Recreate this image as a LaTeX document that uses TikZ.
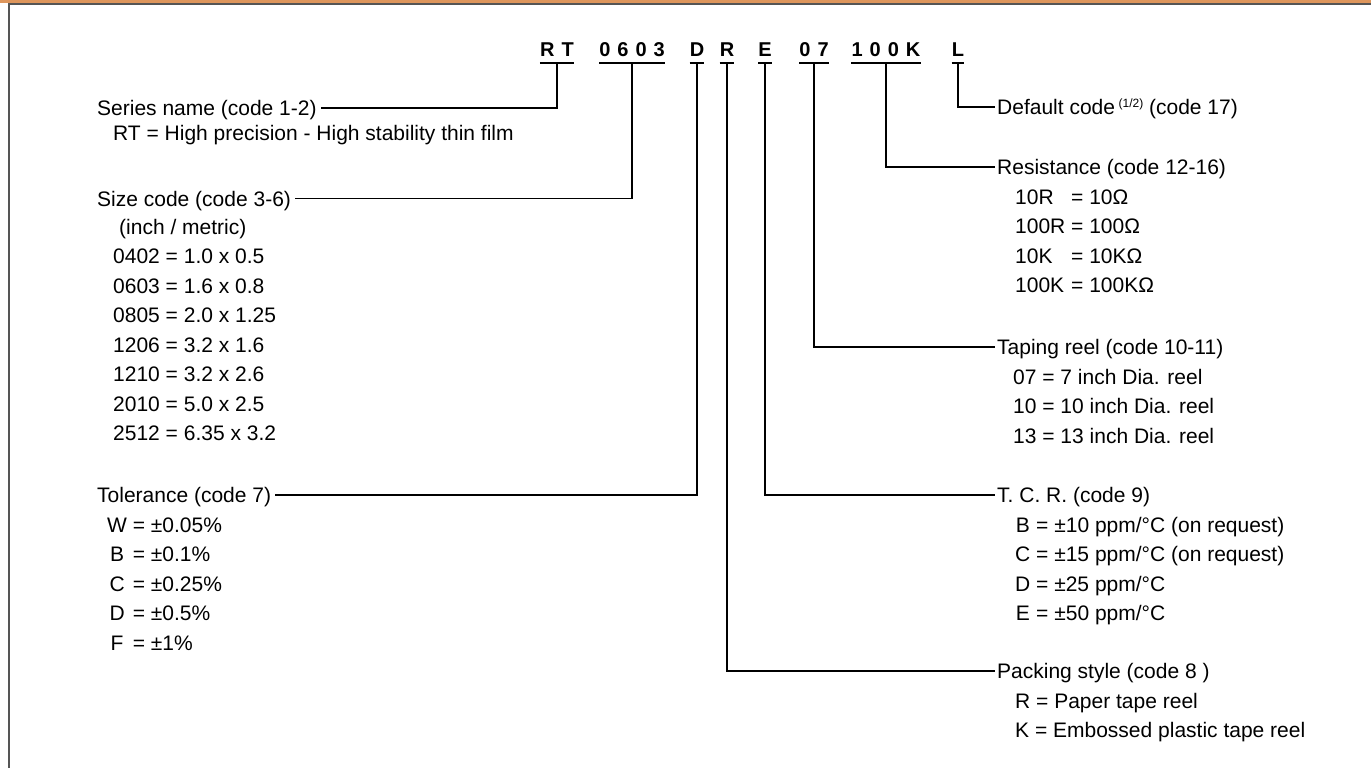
\documentclass[tikz,border=0pt]{standalone}
\usepackage{fontspec}
\setmainfont{Liberation Sans}
\definecolor{barorange}{RGB}{222,150,92}
\definecolor{framegray}{RGB}{85,85,85}
\newcommand{\gp}{\hspace{7pt}}
\newcommand{\eqs}{\ =\ }
\tikzset{
  code/.style={font=\fontsize{20}{20}\selectfont\bfseries, anchor=base, inner sep=0pt},
  head/.style={anchor=base west, inner sep=0pt},
  items/.style={anchor=base west, inner sep=0pt},
  lead/.style={line width=1.2pt},
}

\begin{document}
\begin{tikzpicture}[x=1pt,y=-1pt,font=\fontsize{21}{29.5}\selectfont]
	\useasboundingbox (0,0) rectangle (1371,768);

	% frame
	\fill[barorange] (0,0) rectangle (1371,3.5);
	\draw[framegray,line width=1.5pt] (9,768) -- (9,4) -- (1371,4);

	% part number
	\node[code] (rt) at (557,57) {R\gp T};
	\node[code] (sz) at (632,57) {0\gp 6\gp 0\gp 3};
	\node[code] (tol) at (697,57) {D};
	\node[code] (pack) at (727,57) {R};
	\node[code] (tcr) at (765,57) {E};
	\node[code] (reel) at (814,57) {0\gp 7};
	\node[code] (res) at (886,57) {1\gp 0\gp 0\gp K};
	\node[code] (dflt) at (958,57) {L};

	\draw[lead] ([yshift=-6pt]rt.base west) -- ([yshift=-6pt]rt.base east);
	\draw[lead] ([yshift=-6pt]sz.base west) -- ([yshift=-6pt]sz.base east);
	\draw[lead] ([yshift=-6pt]tol.base west) -- ([yshift=-6pt]tol.base east);
	\draw[lead] ([yshift=-6pt]pack.base west) -- ([yshift=-6pt]pack.base east);
	\draw[lead] ([yshift=-6pt]tcr.base west) -- ([yshift=-6pt]tcr.base east);
	\draw[lead] ([yshift=-6pt]reel.base west) -- ([yshift=-6pt]reel.base east);
	\draw[lead] ([yshift=-6pt]res.base west) -- ([yshift=-6pt]res.base east);
	\draw[lead] ([yshift=-6pt]dflt.base west) -- ([yshift=-6pt]dflt.base east);

	% left side
	\node[head] (serieshd) at (97,115.5) {Series name (code 1-2)};
	\node[items] (serieslist) at (113,140) {RT = High precision - High stability thin film};

	\node[head] (sizehd) at (97,206) {Size code (code 3-6)};
	\node[items] (sizelist) at (113,234) {\begin{tabular}[t]{@{}l@{}}
		\hspace{6pt}(inch / metric)\\
		0402 = 1.0 x 0.5\\
		0603 = 1.6 x 0.8\\
		0805 = 2.0 x 1.25\\
		1206 = 3.2 x 1.6\\
		1210 = 3.2 x 2.6\\
		2010 = 5.0 x 2.5\\
		2512 = 6.35 x 3.2
	\end{tabular}};

	\node[head] (tolhd) at (97,502.5) {Tolerance (code 7)};
	\node[items] (tollist) at (107,532) {\begin{tabular}[t]{@{}c@{\eqs}l@{}}
		W & ±0.05\%\\
		B & ±0.1\%\\
		C & ±0.25\%\\
		D & ±0.5\%\\
		F & ±1\%
	\end{tabular}};

	% right side
	\node[head] (dflthd) at (997,114.5) {Default code\,\raisebox{7pt}{\fontsize{12}{12}\selectfont(1/2)} (code 17)};

	\node[head] (reshd) at (997,174.5) {Resistance (code 12-16)};
	\node[items] (reslist) at (1015,204) {\begin{tabular}[t]{@{}l@{\eqs}l@{}}
		10R & 10Ω\\
		100R & 100Ω\\
		10K & 10KΩ\\
		100K & 100KΩ
	\end{tabular}};

	\node[head] (reelhd) at (997,354.5) {Taping reel (code 10-11)};
	\node[items] (reellist) at (1013,384) {\begin{tabular}[t]{@{}l@{}}
		07 = 7 inch Dia. reel\\
		10 = 10 inch Dia. reel\\
		13 = 13 inch Dia. reel
	\end{tabular}};

	\node[head] (tcrhd) at (997,502.5) {T. C. R. (code 9)};
	\node[items] (tcrlist) at (1015,532) {\begin{tabular}[t]{@{}c@{\eqs}l@{}}
		B & ±10 ppm/°C (on request)\\
		C & ±15 ppm/°C (on request)\\
		D & ±25 ppm/°C\\
		E & ±50 ppm/°C
	\end{tabular}};

	\node[head] (packhd) at (997,678.5) {Packing style (code 8 )};
	\node[items] (packlist) at (1015,708) {\begin{tabular}[t]{@{}l@{}}
		R = Paper tape reel\\
		K = Embossed plastic tape reel
	\end{tabular}};

	% leaders
	\draw[lead] ([yshift=-6pt]rt.base) |- ([xshift=4pt,yshift=7.5pt]serieshd.base east);
	\draw[lead] ([yshift=-6pt]sz.base) |- ([xshift=4pt,yshift=7.5pt]sizehd.base east);
	\draw[lead] ([yshift=-6pt]tol.base) |- ([xshift=4pt,yshift=7.5pt]tolhd.base east);
	\draw[lead] ([yshift=-6pt]pack.base) |- ([xshift=-2pt,yshift=7.5pt]packhd.base west);
	\draw[lead] ([yshift=-6pt]tcr.base) |- ([xshift=-2pt,yshift=7.5pt]tcrhd.base west);
	\draw[lead] ([yshift=-6pt]reel.base) |- ([xshift=-2pt,yshift=7.5pt]reelhd.base west);
	\draw[lead] ([yshift=-6pt]res.base) |- ([xshift=-2pt,yshift=7.5pt]reshd.base west);
	\draw[lead] ([yshift=-6pt]dflt.base) |- ([xshift=-2pt,yshift=7.5pt]dflthd.base west);

\end{tikzpicture}
\end{document}
